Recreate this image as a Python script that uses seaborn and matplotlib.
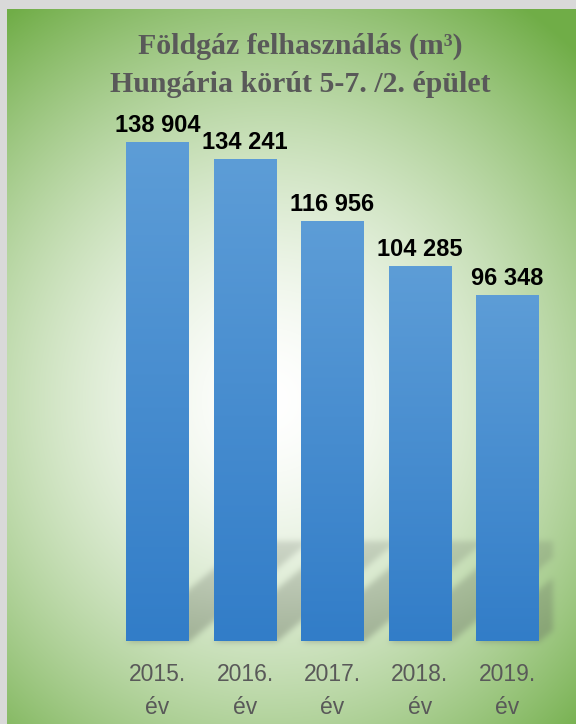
import numpy as np
import pandas as pd
import matplotlib
matplotlib.use("Agg")
import matplotlib.pyplot as plt
import seaborn as sns

# Natural gas consumption by year
years = ["2015.", "2016.", "2017.", "2018.", "2019."]
consumption = [138904, 134241, 116956, 104285, 96348]
tick_labels = [f"{y}\név" for y in years]
title_lines = ["Földgáz felhasználás (m³)", "Hungária körút 5-7. /2. épület"]

df = pd.DataFrame({"ev": tick_labels, "m3": consumption})

W, H, DPI = 576, 724, 100
sns.set_theme(style="white")
plt.rcParams["font.family"] = ["Liberation Sans", "DejaVu Sans"]

fig = plt.figure(figsize=(W / DPI, H / DPI), dpi=DPI)
fig.patch.set_facecolor("#d9d9d9")

# plot axes
ax = fig.add_axes([113.75 / W, 1 - 641 / H, (551.25 - 113.75) / W, (641 - 138) / H])
ax.set_facecolor("none")
sns.barplot(data=df, x="ev", y="m3", ax=ax, width=0.72, color="#5b9bd5",
            saturation=1, linewidth=0, edgecolor="none", zorder=3)
ax.set_ylim(0, 140000)
ax.set_xlim(-0.5, len(years) - 0.5)
for s in ax.spines.values():
    s.set_visible(False)
ax.set_yticks([])
ax.set_ylabel("")
ax.set_xlabel("")
ax.set_xticks(range(len(years)), labels=tick_labels, linespacing=1.55)
ax.tick_params(axis="x", length=0, pad=16, labelsize=16.5, labelcolor="#595959")

# background: radial white-to-green fill with perspective bar shadows
yy, xx = np.mgrid[0:H, 0:W].astype(float)
cx, cy, rx, ry = 270.0, 400.0, 480.0, 505.0
d = np.sqrt(((xx - cx) / rx) ** 2 + ((yy - cy) / ry) ** 2)
t = np.clip(1.1 * d ** 1.6, 0, 1)
green = np.array([112, 173, 71]) / 255.0
white = np.array([1.0, 1.0, 1.0])
bg = white[None, None, :] * (1 - t[..., None]) + green[None, None, :] * t[..., None]

fig.canvas.draw()
shadow = np.zeros((H, W))
sh_h, skew = 100.0, 1.2
bars = ax.patches
for p in bars:
    (x0, y0), (x1, y1) = ax.transData.transform(
        [(p.get_x(), 0), (p.get_x() + p.get_width(), p.get_height())])
    base = H - y0
    v = base - yy
    xs = xx - v * skew
    inside = (v >= 0) & (v <= sh_h) & (xs >= x0) & (xs <= x1)
    strength = 0.4 * (0.55 + 0.45 * (1 - v / sh_h))
    shadow = np.maximum(shadow, np.where(inside, strength, 0))
right_edge = ax.transData.transform((len(years) - 0.5, 0))[0]
shadow[:, int(right_edge) + 2:] = 0

# soft edges for the shadow
def blur(a, r):
    k = np.exp(-0.5 * (np.arange(-3 * r, 3 * r + 1) / r) ** 2)
    k /= k.sum()
    a = np.apply_along_axis(lambda m: np.convolve(m, k, mode="same"), 0, a)
    a = np.apply_along_axis(lambda m: np.convolve(m, k, mode="same"), 1, a)
    return a

shadow = blur(shadow, 3)
sh_col = np.array([100, 108, 95]) / 255.0
bg = bg * (1 - shadow[..., None]) + sh_col[None, None, :] * shadow[..., None]

bg_ax = fig.add_axes([7 / W, 0, (W - 7) / W, (H - 9) / H], zorder=-1)
bg_ax.imshow(bg[9:, 7:], aspect="auto", interpolation="bilinear")
bg_ax.axis("off")

# vertical gradient fill on each bar
grad = np.linspace(0, 1, 256)[:, None]
top_c = np.array([93, 157, 215]) / 255.0
bot_c = np.array([50, 125, 200]) / 255.0
gimg = top_c[None, None, :] * (1 - grad[..., None]) + bot_c[None, None, :] * grad[..., None]
for p, val in zip(bars, consumption):
    x0 = p.get_x()
    im = ax.imshow(gimg, extent=[x0, x0 + p.get_width(), 0, p.get_height()],
                   aspect="auto", zorder=4, interpolation="bilinear")
    im.set_clip_path(p)
    ax.text(x0 + p.get_width() / 2, val + 1400, f"{val:,}".replace(",", " "),
            ha="center", va="bottom", fontsize=17, fontweight="bold",
            color="black", zorder=5)
ax.set_xlim(-0.5, len(years) - 0.5)
ax.set_ylim(0, 140000)

# title
serif = ["Liberation Serif", "DejaVu Serif"]
fig.text(300 / W, 1 - 54 / H, title_lines[0], ha="center", va="baseline",
         fontsize=21.5, fontweight="bold", color="#595959", family=serif)
fig.text(300 / W, 1 - 92 / H, title_lines[1], ha="center", va="baseline",
         fontsize=21.5, fontweight="bold", color="#595959", family=serif)

fig.savefig("out.png", dpi=DPI, facecolor=fig.get_facecolor())
